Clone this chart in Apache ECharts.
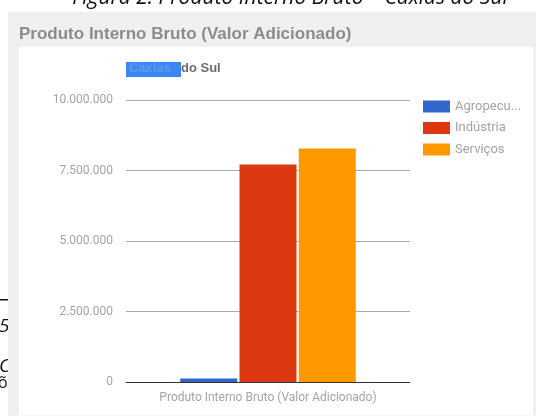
<!DOCTYPE html>
<html>
<head>
<meta charset="utf-8">
<script src="https://cdn.jsdelivr.net/npm/echarts@6/dist/echarts.min.js"></script>
<style>
  html, body { margin: 0; padding: 0; background: #fff; }
  #chart { width: 536px; height: 416px; }
</style>
</head>
<body>
<div id="chart"></div>
<script>
  // dados
  var categorias = ['Produto Interno Bruto (Valor Adicionado)']
  var setores = ['Agropecuária', 'Indústria', 'Serviços']
  var valores = [120000, 7710000, 8280000]
  var cores = ['#3366cc', '#dc3912', '#ff9900']
  var yTicks = [0, 2500000, 5000000, 7500000, 10000000]

  function fmt(v) {
    return String(v).replace(/\B(?=(\d{3})+(?!\d))/g, '.')
  }

  var chart = echarts.init(document.getElementById('chart'))

  var series = setores.map(function (nome, i) {
    return {
      name: nome,
      type: 'bar',
      barWidth: 57,
      barGap: '4%',
      itemStyle: {color: cores[i]},
      data: [valores[i]],
      z: 3
    }
  })

  chart.setOption({
    backgroundColor: '#fff',
    animation: false,
    title: {
      text: 'Produto Interno Bruto (Valor Adicionado)',
      left: 14,
      top: 21,
      textStyle: {
        fontFamily: 'Liberation Sans',
        fontSize: 17,
        fontWeight: 'bold',
        color: '#8c8c8c'
      }
    },
    graphic: [
      // trechos do documento por trás do painel
      {type: 'text', x: 290, y: -12, z: -20,
        style: {text: 'Figura 2: Produto Interno Bruto \u2013 Caxias do Sul', align: 'center', fontFamily: 'Open Sans', fontStyle: 'italic', fontSize: 21, fill: '#111'}},
      {type: 'rect', shape: {x: 0, y: 299, width: 9, height: 1.5}, style: {fill: '#111'}, z: -20},
      {type: 'text', x: -1, y: 317, z: -20, style: {text: '5', fontFamily: 'Open Sans', fontStyle: 'italic', fontSize: 19, fill: '#111'}},
      {type: 'text', x: -1, y: 357, z: -20, style: {text: 'C', fontFamily: 'Open Sans', fontStyle: 'italic', fontSize: 19, fill: '#111'}},
      {type: 'text', x: -2, y: 375, z: -20, style: {text: 'õı', fontFamily: 'Open Sans', fontSize: 16, fill: '#111'}},
      // painel
      {type: 'rect', shape: {x: 8, y: 12, width: 528, height: 404}, style: {fill: '#f0f0f0'}, z: -10},
      {type: 'rect', shape: {x: 18, y: 46, width: 516, height: 370}, style: {fill: '#fff', stroke: '#ececec'}, z: -10},
      // subtítulo com trecho selecionado
      {type: 'rect', shape: {x: 126, y: 62, width: 55, height: 15}, style: {fill: '#3d87f0'}, z: -5},
      {type: 'text', x: 129, y: 62, z: -5,
        style: {text: 'Caxias', fontFamily: 'Liberation Sans', fontSize: 13, fontWeight: 'bold', fill: '#5e98ea'}},
      {type: 'text', x: 181, y: 62, z: -5,
        style: {text: 'do Sul', fontFamily: 'Liberation Sans', fontSize: 13, fontWeight: 'bold', fill: '#6e6e6e'}}
    ],
    legend: {
      orient: 'vertical',
      left: 418,
      top: 95,
      itemWidth: 27,
      itemHeight: 12,
      itemGap: 8.5,
      icon: 'rect',
      data: setores,
      formatter: function (name) {
        return name.length > 10 ? name.slice(0, 8) + '...' : name
      },
      textStyle: {fontFamily: 'Roboto', fontSize: 13, color: '#a4a4a4'}
    },
    grid: {
      left: 126,
      right: 126,
      top: 100,
      bottom: 34,
      containLabel: false
    },
    xAxis: {
      type: 'category',
      data: categorias,
      axisTick: {show: false},
      axisLine: {lineStyle: {color: '#333', width: 1}},
      axisLabel: {fontFamily: 'Roboto', fontSize: 12, color: '#a4a4a4', margin: 10}
    },
    yAxis: {
      type: 'value',
      min: yTicks[0],
      max: yTicks[yTicks.length - 1],
      interval: yTicks[1] - yTicks[0],
      axisLine: {show: false},
      axisTick: {show: false},
      splitLine: {lineStyle: {color: '#aaa', width: 1}},
      axisLabel: {
        fontFamily: 'Roboto',
        fontSize: 12,
        color: '#a4a4a4',
        margin: 13,
        formatter: fmt
      }
    },
    series: series
  })
</script>
</body>
</html>
